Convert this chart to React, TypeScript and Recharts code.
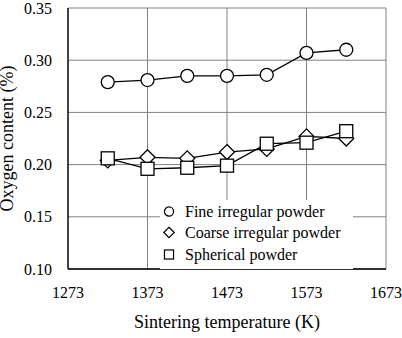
import React from "react";
import { LineChart, Line, XAxis, YAxis, CartesianGrid, Legend } from "recharts";

// Sintering temperatures (K)
const temperatures = [1323, 1373, 1423, 1473, 1523, 1573, 1623];

// Oxygen content (%) per powder type
const fineIrregular = [0.279, 0.281, 0.285, 0.285, 0.286, 0.307, 0.31];
const coarseIrregular = [0.204, 0.207, 0.206, 0.212, 0.215, 0.227, 0.225];
const spherical = [0.206, 0.196, 0.197, 0.199, 0.22, 0.221, 0.232];

const xTicks = [1273, 1373, 1473, 1573, 1673];
const yTicks = [0.1, 0.15, 0.2, 0.25, 0.3, 0.35];

const seriesNames = ["Fine irregular powder", "Coarse irregular powder", "Spherical powder"];

const data = temperatures.map((t, i) => ({
  t,
  fine: fineIrregular[i],
  coarse: coarseIrregular[i],
  spherical: spherical[i],
}));

const FONT = "'Liberation Serif', 'Times New Roman', serif";

type Shape = "circle" | "diamond" | "square";

function Marker({ cx, cy, shape, size = 1, sw = 1.3 }: { cx: number; cy: number; shape: Shape; size?: number; sw?: number }) {
  if (cx == null || cy == null) return null;
  const common = { fill: "#fff", stroke: "#000", strokeWidth: sw };
  if (shape === "circle") return <circle cx={cx} cy={cy} r={6.5 * size} {...common} />;
  if (shape === "diamond") {
    const h = 7.5 * size;
    return <polygon points={`${cx},${cy - h} ${cx + h},${cy} ${cx},${cy + h} ${cx - h},${cy}`} {...common} />;
  }
  const s = 6.5 * size;
  return <rect x={cx - s} y={cy - s} width={2 * s} height={2 * s} {...common} />;
}

const makeDot = (shape: Shape) => (props: any) => (
  <Marker key={`${shape}-${props.index}`} cx={props.cx} cy={props.cy} shape={shape} />
);

const legendShapes: Shape[] = ["circle", "diamond", "square"];

function LegendBox() {
  return (
    <div
      style={{
        background: "#fff",
        width: 193,
        height: 69,
        paddingTop: 1,
        boxSizing: "border-box",
        fontFamily: FONT,
        fontSize: 16,
        color: "#000",
      }}
    >
      {seriesNames.map((name, i) => (
        <div key={name} style={{ display: "flex", alignItems: "center", height: 21.3 }}>
          <svg width={20} height={21} style={{ marginLeft: 0 }}>
            <Marker cx={9} cy={10.5} shape={legendShapes[i]} size={0.7} sw={1.2} />
          </svg>
          <span style={{ marginLeft: 5, lineHeight: "21px" }}>{name}</span>
        </div>
      ))}
    </div>
  );
}

export default function App() {
  return (
    <div style={{ position: "absolute", left: 0, top: 0, width: 402, height: 338, background: "#fff" }}>
      <LineChart
        width={402}
        height={338}
        data={data}
        margin={{ top: 8, right: 16, bottom: 0, left: 0 }}
        style={{ fontFamily: FONT }}
      >
        <CartesianGrid stroke="#808080" strokeWidth={1} />
        <XAxis
          dataKey="t"
          type="number"
          domain={[1273, 1673]}
          ticks={xTicks}
          interval={0}
          tickLine={false}
          tickSize={6}
          tickMargin={12}
          height={69}
          axisLine={{ stroke: "#000", strokeWidth: 1.3 }}
          tick={{ fill: "#000", fontSize: 16, fontFamily: FONT }}
          label={{
            value: "Sintering temperature (K)",
            position: "insideBottom",
            offset: 10,
            fill: "#000",
            fontSize: 18,
            fontFamily: FONT,
          }}
        />
        <YAxis
          type="number"
          domain={[0.1, 0.35]}
          ticks={yTicks}
          interval={0}
          tickLine={false}
          tickSize={6}
          tickMargin={10}
          width={68}
          axisLine={{ stroke: "#000", strokeWidth: 1.3 }}
          tickFormatter={(v: number) => v.toFixed(2)}
          tick={{ fill: "#000", fontSize: 16, fontFamily: FONT }}
          label={{
            value: "Oxygen content (%)",
            angle: -90,
            position: "insideLeft",
            offset: 7,
            fill: "#000",
            fontSize: 18,
            fontFamily: FONT,
            style: { textAnchor: "middle" },
          }}
        />
        <Legend
          layout="vertical"
          align="center"
          verticalAlign="middle"
          wrapperStyle={{ left: 160, top: 200, width: 193, height: 69 }}
          content={() => <LegendBox />}
        />
        <Line
          dataKey="fine"
          name={seriesNames[0]}
          stroke="#000"
          strokeWidth={1.3}
          dot={makeDot("circle")}
          isAnimationActive={false}
        />
        <Line
          dataKey="coarse"
          name={seriesNames[1]}
          stroke="#000"
          strokeWidth={1.3}
          dot={makeDot("diamond")}
          isAnimationActive={false}
        />
        <Line
          dataKey="spherical"
          name={seriesNames[2]}
          stroke="#000"
          strokeWidth={1.3}
          dot={makeDot("square")}
          isAnimationActive={false}
        />
      </LineChart>
    </div>
  );
}
